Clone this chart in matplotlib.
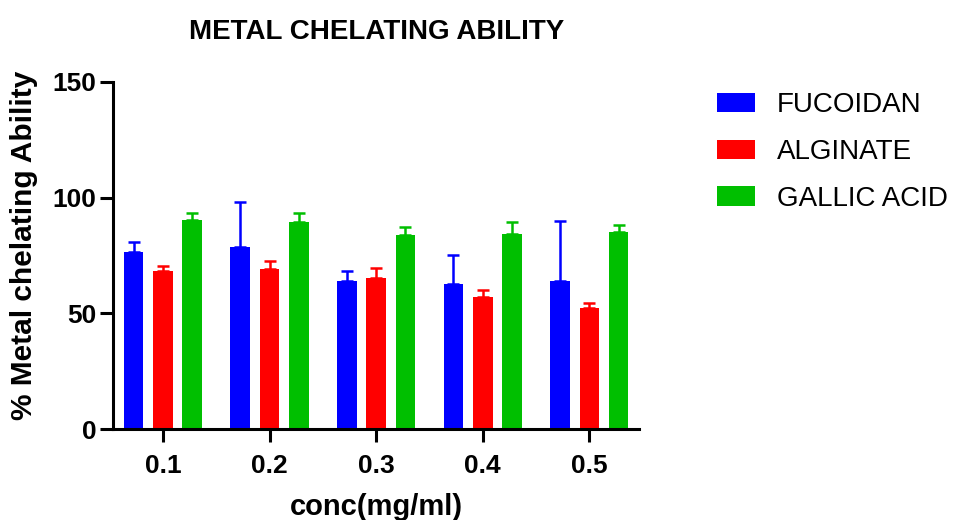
import matplotlib.pyplot as plt
import numpy as np

plt.rcParams['font.family'] = ['Liberation Sans', 'DejaVu Sans']

conc = ['0.1', '0.2', '0.3', '0.4', '0.5']
series = ['FUCOIDAN', 'ALGINATE', 'GALLIC ACID']
colors = ['#0000FF', '#FF0000', '#00BF00']

fucoidan = [76.5, 78.5, 64.1, 62.8, 64.1]
fucoidan_err = [4.3, 19.7, 4.4, 12.4, 25.9]
alginate = [68.2, 69.3, 65.4, 57.1, 52.5]
alginate_err = [2.1, 3.3, 4.4, 3.0, 2.1]
gallic = [90.3, 89.6, 83.7, 84.4, 85.3]
gallic_err = [3.1, 3.8, 3.6, 5.2, 3.0]

means = [fucoidan, alginate, gallic]
errs = [fucoidan_err, alginate_err, gallic_err]

fig = plt.figure(figsize=(9.56, 5.2), dpi=100)
ax = fig.add_axes([0.1185, 0.1744, 0.5499, 0.6685])

x = np.arange(len(conc))
width = 0.183
step = 0.275
for i in range(3):
    pos = x + (i - 1) * step
    err = np.array(errs[i])
    ax.bar(pos, means[i], width, color=colors[i], label=series[i], zorder=2)
    ax.errorbar(pos, means[i], yerr=[np.zeros_like(err), err], fmt='none',
                ecolor=colors[i], elinewidth=1.8, capsize=4.5, capthick=1.8, zorder=1)

ax.set_xlim(-0.465, 4.465)
ax.set_ylim(0, 150)
ax.set_yticks([0, 50, 100, 150])
ax.set_xticks(x)
ax.set_xticklabels(conc)

for s in ['top', 'right']:
    ax.spines[s].set_visible(False)
for s in ['left', 'bottom']:
    ax.spines[s].set_linewidth(2.2)
ax.tick_params(axis='both', width=2.2, length=9.5, labelsize=19)
ax.tick_params(axis='x', pad=8)
ax.tick_params(axis='y', pad=2.5)
for lab in ax.get_xticklabels() + ax.get_yticklabels():
    lab.set_fontweight('bold')

ax.set_xlabel('conc(mg/ml)', fontsize=21, fontweight='bold', labelpad=11)
ax.set_ylabel('% Metal chelating Ability', fontsize=21.5, fontweight='bold')
ax.yaxis.set_label_coords(-0.144, 0.53)
ax.set_title('METAL CHELATING ABILITY', fontsize=20, fontweight='bold', pad=31)

fig.legend(loc='upper left', bbox_to_anchor=(0.75, 0.823), frameon=False,
           fontsize=20, handlelength=1.36, handleheight=0.68, handletextpad=0.79,
           labelspacing=0.75, borderpad=0, borderaxespad=0)

fig.savefig('out.png', dpi=100)
